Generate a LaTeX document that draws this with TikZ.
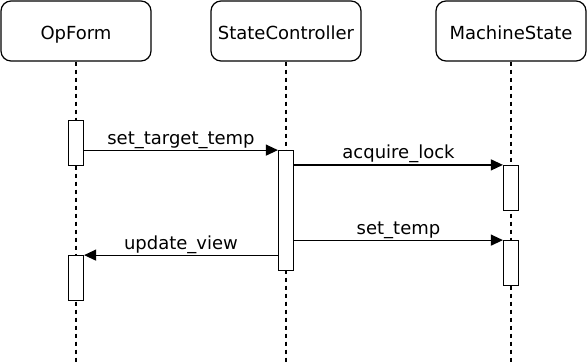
\documentclass[tikz,border=0pt]{standalone}
\usepackage{fontspec}
\setmainfont{DejaVu Sans}
\usetikzlibrary{arrows.meta}
\begin{document}
\begin{tikzpicture}[
    x=1bp, y=-1bp,
    font=\fontsize{18bp}{21bp}\selectfont,
    actor/.style={draw, rounded corners=10bp, line width=1.2bp, minimum width=150bp, minimum height=60bp, inner sep=0pt, text height=16bp, text depth=0pt},
    life/.style={line width=1.2bp, dash pattern=on 4bp off 4bp},
    act/.style={draw, fill=white, line width=1.2bp, minimum width=15bp, minimum height=45bp, inner sep=0pt},
    msg/.style={line width=1.2bp, -{Triangle[length=12bp, width=11bp]}},
    lab/.style={inner sep=0pt, anchor=base, midway, yshift=6bp}
]
\useasboundingbox (0,0) rectangle (588,363);

\node[actor] (opform) at (76,31) {OpForm};
\node[actor] (ctrl) at (286,31) {StateController};
\node[actor] (mstate) at (511,31) {MachineState};

\coordinate (opend) at (76,363);
\coordinate (ctrlend) at (286,363);
\coordinate (msend) at (511,363);

\draw[life] (opform) -- (opend);
\draw[life] (ctrl) -- (ctrlend);
\draw[life] (mstate) -- (msend);

\node[act] (opA1) at (76,143.2) {};
\node[act] (opA2) at (76,278.2) {};
\node[act, minimum height=119.6bp] (ctrlA) at (286,210.5) {};
\node[act] (msA1) at (511,188) {};
\node[act] (msA2) at (511,263.2) {};

\draw[msg] (opA1.east |- ctrlA.north) -- (ctrlA.north west) node[lab] {set\_target\_temp};
\draw[msg] (ctrlA.east |- msA1.north) -- (msA1.north west) node[lab] {acquire\_lock};
\draw[msg] (ctrlA.east |- msA2.north) -- (msA2.north west) node[lab] {set\_temp};
\draw[msg] (ctrlA.west |- opA2.north) -- (opA2.north east) node[lab] {update\_view};
\end{tikzpicture}
\end{document}
